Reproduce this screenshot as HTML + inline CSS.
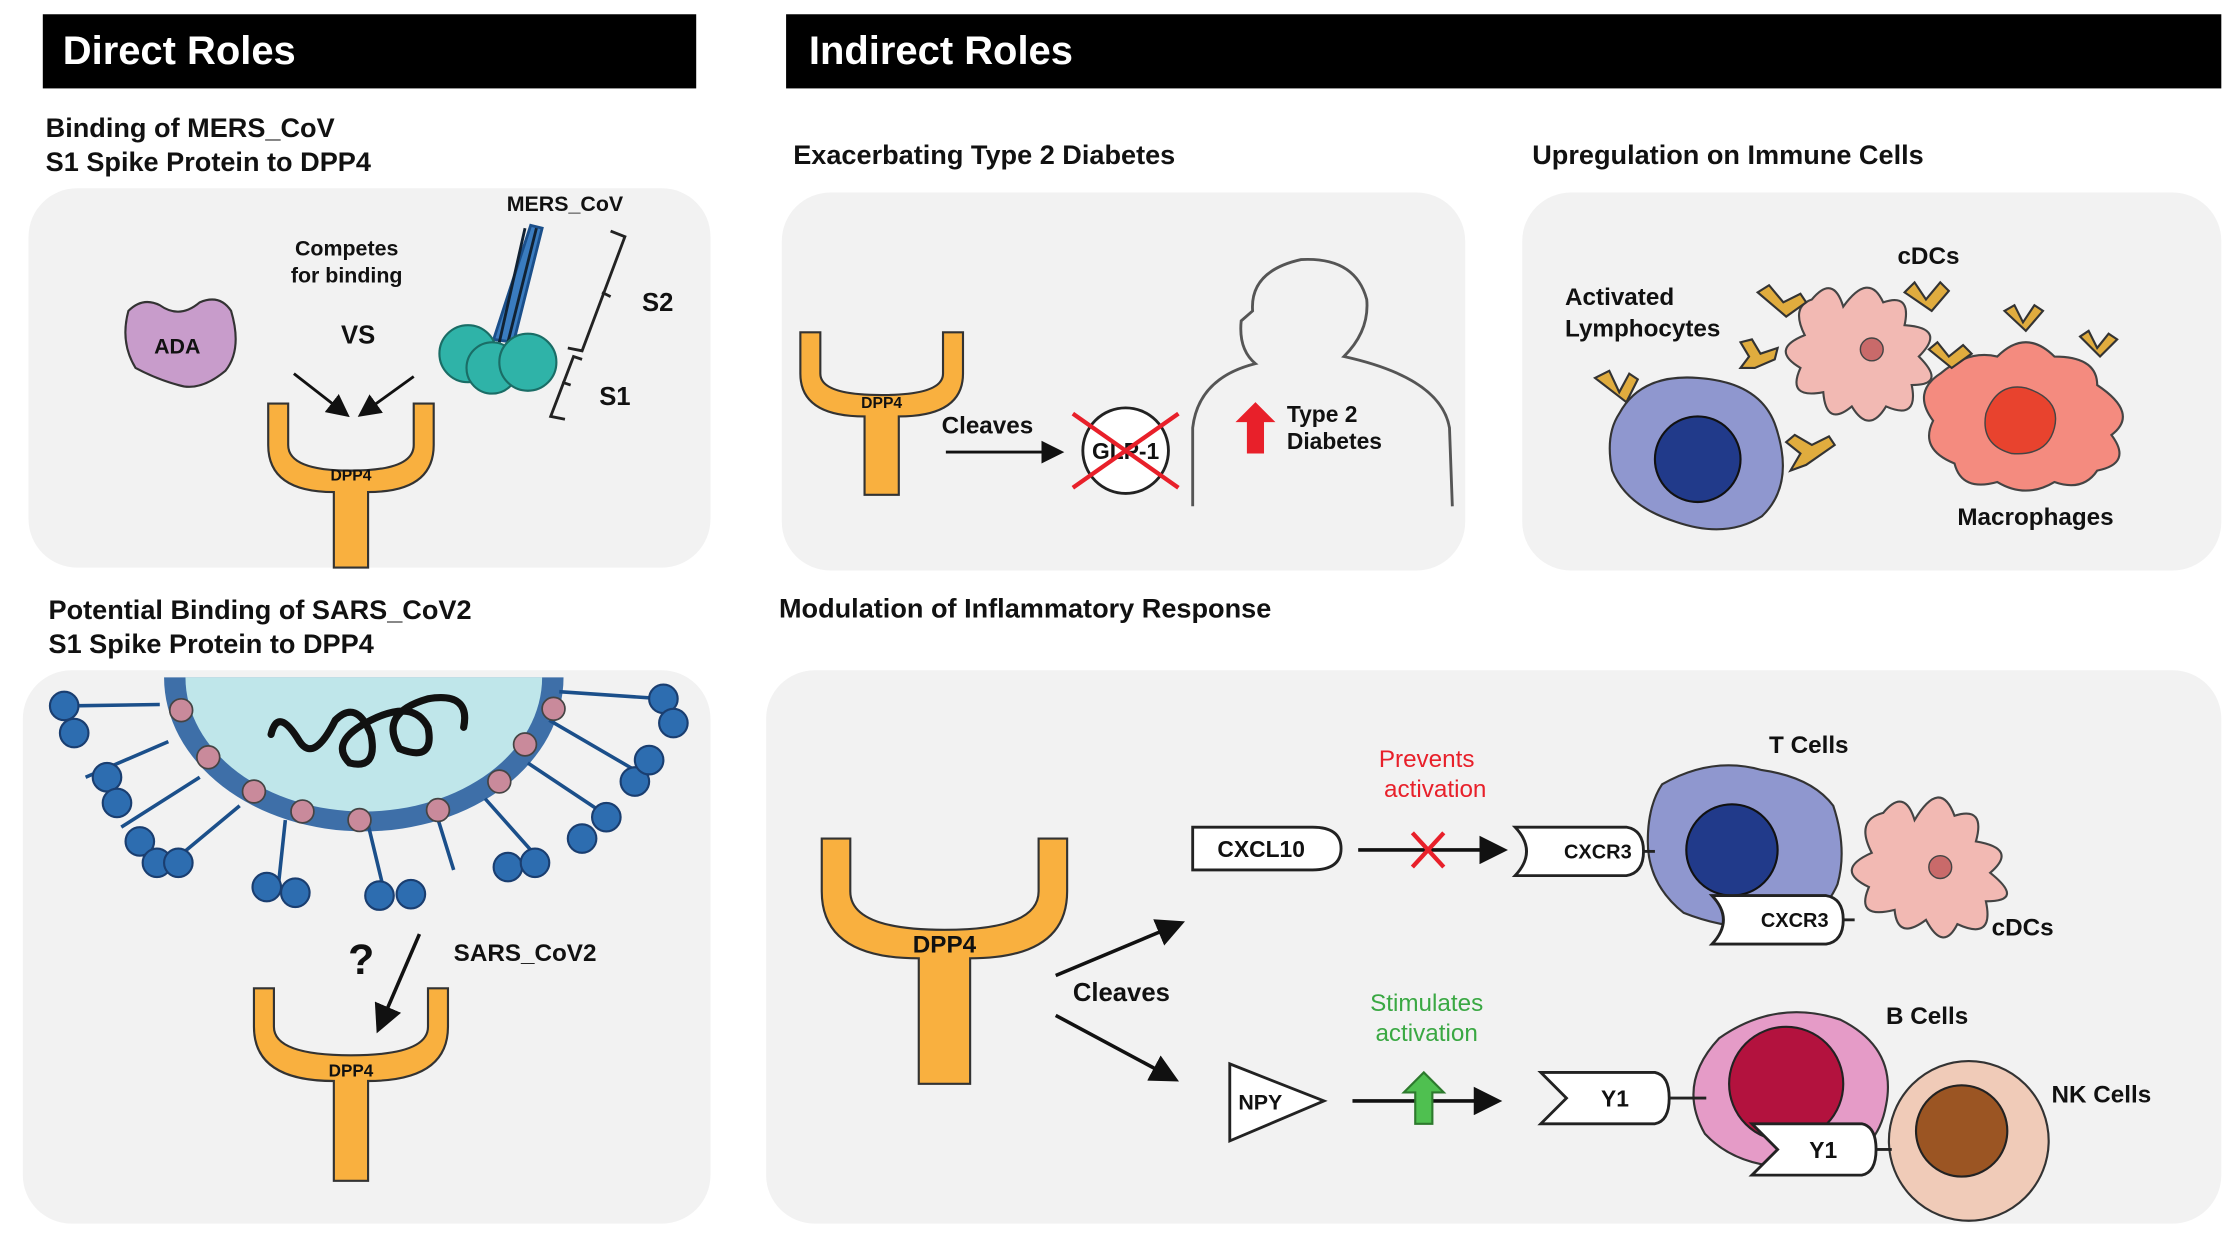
<!DOCTYPE html>
<html><head><meta charset="utf-8"><style>
html,body{margin:0;padding:0;background:#fff;}
svg{display:block;}
text{font-family:"Liberation Sans",sans-serif;font-weight:bold;}
</style></head><body>
<svg width="2237" height="1245" viewBox="0 0 1568 873" preserveAspectRatio="none" xmlns="http://www.w3.org/2000/svg">
<defs>
<marker id="ah" markerWidth="8" markerHeight="8" refX="6" refY="4" orient="auto" markerUnits="strokeWidth"><path d="M0,0 L8,4 L0,8 Z" fill="#111"/></marker>
</defs>
<rect width="1568" height="873" fill="#fff"/>
<rect x="30" y="10" width="458" height="52" fill="#000"/>
<text x="44" y="45" fill="#fff" font-size="28">Direct Roles</text>
<rect x="551" y="10" width="1006" height="52" fill="#000"/>
<text x="567" y="45" fill="#fff" font-size="28">Indirect Roles</text>
<g fill="#f2f2f2">
<rect x="20" y="132" width="478" height="266" rx="34"/>
<rect x="548" y="135" width="479" height="265" rx="34"/>
<rect x="1067" y="135" width="490" height="265" rx="34"/>
<rect x="16" y="470" width="482" height="388" rx="34"/>
<rect x="537" y="470" width="1020" height="388" rx="34"/>
</g>
<g font-size="19" fill="#111">
<text x="32" y="96">Binding of MERS_CoV</text>
<text x="32" y="120">S1 Spike Protein to DPP4</text>
<text x="556" y="115">Exacerbating Type 2 Diabetes</text>
<text x="1074" y="115">Upregulation on Immune Cells</text>
<text x="34" y="434">Potential Binding of SARS_CoV2</text>
<text x="34" y="458">S1 Spike Protein to DPP4</text>
<text x="546" y="433">Modulation of Inflammatory Response</text>
</g>

<path d="M90,218 Q100,208 112,214 Q126,224 140,212 Q154,206 162,218 Q170,245 158,260 Q140,275 125,270 Q110,266 95,258 Q84,240 90,218 Z" fill="#c89ccb" stroke="#333" stroke-width="1.5"/>
<text x="108" y="248" font-size="15" fill="#111">ADA</text>
<text x="243" y="179" font-size="15" text-anchor="middle" fill="#111">Competes</text>
<text x="243" y="198" font-size="15" text-anchor="middle" fill="#111">for binding</text>
<text x="251" y="241" font-size="18" text-anchor="middle" fill="#111">VS</text>
<path d="M206,262 L242,290" stroke="#111" stroke-width="2" marker-end="url(#ah)"/>
<path d="M290,264 L254,290" stroke="#111" stroke-width="2" marker-end="url(#ah)"/>
<path d="M188,283 H202 V312 Q202,330 246,330 Q290,330 290,312 V283 H304 V312 Q304,345 258,345 V398 H234 V345 Q188,345 188,312 Z" fill="#f9b03f" stroke="#333" stroke-width="1.5"/>
<text x="246" y="337" font-size="11" text-anchor="middle" fill="#111">DPP4</text>
<text x="396" y="148" font-size="15" text-anchor="middle" fill="#111">MERS_CoV</text>
<g stroke="#1b4f8a" stroke-width="2" fill="#3a7cc0">
<path d="M372,158 L380,160 L360,240 L346,238 Z"/>
<path d="M376,160 L356,240 M368,160 L350,240" stroke="#123"/>
</g>
<circle cx="328" cy="248" r="20" fill="#2fb3a8" stroke="#1a6d66" stroke-width="1.5"/>
<circle cx="345" cy="258" r="18" fill="#2fb3a8" stroke="#1a6d66" stroke-width="1.5"/>
<circle cx="370" cy="254" r="20" fill="#2fb3a8" stroke="#1a6d66" stroke-width="1.5"/>
<path d="M428,162 L438,166 L408,246 L398,244 M422,205 L428,208 M408,252 L402,250 L386,292 L396,294 M394,268 L400,270" stroke="#222" stroke-width="2" fill="none"/>
<text x="450" y="218" font-size="18" fill="#111">S2</text>
<text x="420" y="284" font-size="18" fill="#111">S1</text>

<path d="M561,233 H575 V262 Q575,277 618,277 Q661,277 661,262 V233 H675 V262 Q675,292 630,292 V347 H606 V292 Q561,292 561,262 Z" fill="#f9b03f" stroke="#333" stroke-width="1.5"/>
<text x="618" y="286" font-size="11" text-anchor="middle" fill="#111">DPP4</text>
<text x="660" y="304" font-size="17" fill="#111">Cleaves</text>
<path d="M663,317 L742,317" stroke="#111" stroke-width="2" marker-end="url(#ah)"/>
<circle cx="789" cy="316" r="30" fill="#fff" stroke="#222" stroke-width="2"/>
<text x="789" y="322" font-size="16" text-anchor="middle" fill="#111">GLP-1</text>
<path d="M752,290 L826,342 M752,342 L826,290" stroke="#e8202a" stroke-width="3"/>
<path d="M836,355 V300 Q840,265 880,255 Q868,245 870,225 L878,218 Q876,190 912,182 Q950,180 958,210 Q960,232 942,250 Q1010,265 1016,300 L1018,355" fill="none" stroke="#555" stroke-width="2"/>
<path d="M880,282 L866,296 H874 V318 H886 V296 H894 Z" fill="#e8202a"/>
<text x="902" y="296" font-size="16" fill="#111">Type 2</text>
<text x="902" y="315" font-size="16" fill="#111">Diabetes</text>

<path d="M1135,290 Q1150,262 1190,265 Q1235,268 1245,300 Q1258,340 1235,362 Q1210,378 1175,366 Q1140,355 1130,330 Q1125,305 1135,290 Z" fill="#8f97cf" stroke="#333" stroke-width="1.5"/>
<circle cx="1190" cy="322" r="30" fill="#213a8a" stroke="#111" stroke-width="1.5"/>
<path d="M1270,210 Q1285,192 1292,215 Q1310,190 1320,212 Q1340,205 1335,228 Q1365,230 1345,250 Q1365,270 1340,270 Q1345,295 1322,285 Q1310,305 1298,285 Q1280,300 1278,275 Q1252,280 1262,258 Q1240,245 1265,235 Q1255,215 1270,210 Z" fill="#f2b9b3" stroke="#444" stroke-width="1.5"/>
<circle cx="1312" cy="245" r="8" fill="#c96a6a" stroke="#444"/>
<path d="M1360,262 Q1380,245 1400,250 Q1420,230 1440,250 Q1470,250 1470,270 Q1500,290 1480,305 Q1495,325 1470,330 Q1460,345 1440,338 Q1420,350 1400,338 Q1375,345 1370,325 Q1345,315 1355,295 Q1340,275 1360,262 Z" fill="#f48b7f" stroke="#444" stroke-width="1.5"/>
<path d="M1392,290 Q1400,268 1420,272 Q1445,280 1440,300 Q1435,320 1410,318 Q1388,312 1392,290 Z" fill="#e8432e" stroke="#444"/>
<g stroke="#333" stroke-width="1.5" fill="#e0ac3e">
<path d="M1118,265 L1128,260 L1135,275 L1142,262 L1148,266 L1140,282 Z"/>
<path d="M1220,258 L1226,250 L1220,240 L1228,238 L1234,248 L1246,244 L1244,252 L1230,258 Z"/>
<path d="M1255,330 L1262,318 L1252,310 L1258,305 L1270,312 L1282,306 L1286,312 L1266,326 Z"/>
<path d="M1232,205 L1240,200 L1250,212 L1262,206 L1266,212 L1252,222 Z"/>
<path d="M1335,205 L1342,198 L1350,210 L1360,198 L1366,204 L1354,218 Z"/>
<path d="M1352,245 L1358,240 L1366,250 L1376,242 L1382,248 L1368,258 Z"/>
<path d="M1405,218 L1412,214 L1418,226 L1426,214 L1432,218 L1420,232 Z"/>
<path d="M1458,236 L1464,232 L1470,244 L1478,234 L1484,238 L1472,250 Z"/>
</g>
<text x="1097" y="214" font-size="17" fill="#111">Activated</text>
<text x="1097" y="236" font-size="17" fill="#111">Lymphocytes</text>
<text x="1330" y="185" font-size="17" fill="#111">cDCs</text>
<text x="1372" y="368" font-size="17" fill="#111">Macrophages</text>

<path d="M115,475 A140,108 0 0 0 395,475 Z" fill="#3e6fa8"/>
<path d="M130,475 A125,94 0 0 0 380,475 Z" fill="#bfe6ea"/>
<g stroke="#1b4f8a" stroke-width="2.5">
<path d="M112,494 L45,495 M118,520 L60,545 M140,545 L85,580 M168,565 L120,605 M200,575 L195,622 M258,578 L270,628 M305,568 L318,610 M340,560 L380,605 M370,535 L430,575 M385,505 L445,540 M392,485 L465,490"/>
</g>
<g fill="#2d6db0" stroke="#1a3e70" stroke-width="1.5">
<circle cx="45" cy="495" r="10"/><circle cx="52" cy="514" r="10"/>
<circle cx="75" cy="545" r="10"/><circle cx="82" cy="563" r="10"/>
<circle cx="98" cy="590" r="10"/><circle cx="110" cy="605" r="10"/>
<circle cx="125" cy="605" r="10"/>
<circle cx="187" cy="622" r="10"/><circle cx="207" cy="626" r="10"/>
<circle cx="266" cy="628" r="10"/><circle cx="288" cy="627" r="10"/>
<circle cx="356" cy="608" r="10"/><circle cx="375" cy="605" r="10"/>
<circle cx="408" cy="588" r="10"/><circle cx="425" cy="573" r="10"/>
<circle cx="445" cy="548" r="10"/><circle cx="455" cy="533" r="10"/>
<circle cx="465" cy="490" r="10"/><circle cx="472" cy="507" r="10"/>
</g>
<g fill="#c98a9b" stroke="#444" stroke-width="1.2">
<circle cx="127" cy="498" r="8"/><circle cx="146" cy="531" r="8"/><circle cx="178" cy="555" r="8"/>
<circle cx="212" cy="569" r="8"/><circle cx="252" cy="575" r="8"/><circle cx="307" cy="568" r="8"/>
<circle cx="350" cy="548" r="8"/><circle cx="368" cy="522" r="8"/><circle cx="388" cy="497" r="8"/>
</g>
<path d="M190,515 Q195,495 210,520 Q220,535 235,505 Q250,490 260,515 Q265,540 245,535 Q230,520 260,505 Q290,490 300,510 Q305,535 280,525 Q265,500 300,490 Q330,485 325,510" fill="none" stroke="#111" stroke-width="5" stroke-linecap="round"/>
<text x="244" y="683" font-size="30" fill="#111">?</text>
<path d="M294,655 L266,720" stroke="#111" stroke-width="2.5" marker-end="url(#ah)"/>
<text x="318" y="674" font-size="17" fill="#111">SARS_CoV2</text>
<path d="M178,693 H192 V720 Q192,740 246,740 Q300,740 300,720 V693 H314 V720 Q314,758 258,758 V828 H234 V758 Q178,758 178,720 Z" fill="#f9b03f" stroke="#333" stroke-width="1.5"/>
<text x="246" y="755" font-size="12" text-anchor="middle" fill="#111">DPP4</text>

<path d="M576,588 H596 V625 Q596,652 662,652 Q728,652 728,625 V588 H748 V625 Q748,672 680,672 V760 H644 V672 Q576,672 576,625 Z" fill="#f9b03f" stroke="#333" stroke-width="1.5"/>
<text x="662" y="668" font-size="17" text-anchor="middle" fill="#111">DPP4</text>
<path d="M740,684 L826,648" stroke="#111" stroke-width="2.5" marker-end="url(#ah)"/>
<path d="M740,712 L822,756" stroke="#111" stroke-width="2.5" marker-end="url(#ah)"/>
<text x="752" y="702" font-size="18" fill="#111">Cleaves</text>
<path d="M836,580 H920 Q940,580 940,595 Q940,610 920,610 H836 Z" fill="#fff" stroke="#222" stroke-width="2"/>
<text x="884" y="601" font-size="16" text-anchor="middle" fill="#111">CXCL10</text>
<path d="M952,596 L1052,596" stroke="#111" stroke-width="2.5" marker-end="url(#ah)"/>
<path d="M990,584 L1012,608 M1012,584 L990,608" stroke="#e8202a" stroke-width="3"/>
<text x="1000" y="538" font-size="17" text-anchor="middle" fill="#e8202a" style="font-weight:normal">Prevents</text>
<text x="1006" y="559" font-size="17" text-anchor="middle" fill="#e8202a" style="font-weight:normal">activation</text>
<path d="M1165,550 Q1200,530 1235,540 Q1270,545 1285,565 Q1295,595 1288,620 Q1275,650 1240,650 Q1210,652 1180,640 Q1155,620 1155,590 Q1155,565 1165,550 Z" fill="#8f97cf" stroke="#333" stroke-width="1.5"/>
<circle cx="1214" cy="596" r="32" fill="#213a8a" stroke="#111" stroke-width="1.5"/>
<path d="M1062,580 H1140 Q1152,582 1152,597 Q1152,612 1140,614 H1062 Q1078,597 1062,580 Z" fill="#fff" stroke="#222" stroke-width="2"/>
<text x="1120" y="602" font-size="14" text-anchor="middle" fill="#111">CXCR3</text>
<path d="M1152,597 H1160" stroke="#222" stroke-width="2"/>
<path d="M1200,628 H1280 Q1292,630 1292,645 Q1292,660 1280,662 H1200 Q1216,645 1200,628 Z" fill="#fff" stroke="#222" stroke-width="2"/>
<text x="1258" y="650" font-size="14" text-anchor="middle" fill="#111">CXCR3</text>
<path d="M1292,645 H1300" stroke="#222" stroke-width="2"/>
<path d="M1320,570 Q1335,552 1342,575 Q1360,545 1370,572 Q1392,565 1385,590 Q1415,595 1395,612 Q1420,632 1392,632 Q1398,660 1372,648 Q1362,668 1350,645 Q1330,660 1328,638 Q1300,645 1310,622 Q1285,610 1312,598 Q1300,575 1320,570 Z" fill="#f2b9b3" stroke="#444" stroke-width="1.5"/>
<circle cx="1360" cy="608" r="8" fill="#c96a6a" stroke="#444"/>
<text x="1240" y="528" font-size="17" fill="#111">T Cells</text>
<text x="1396" y="656" font-size="17" fill="#111">cDCs</text>
<path d="M862,746 L928,772 L862,800 Z" fill="#fff" stroke="#222" stroke-width="2"/>
<text x="868" y="778" font-size="15" fill="#111">NPY</text>
<path d="M948,772 L1048,772" stroke="#111" stroke-width="2.5" marker-end="url(#ah)"/>
<path d="M998,752 L984,766 H992 V788 H1004 V766 H1012 Z" fill="#4fc050" stroke="#2d7a2d" stroke-width="1.5"/>
<text x="1000" y="709" font-size="17" text-anchor="middle" fill="#3aa843" style="font-weight:normal">Stimulates</text>
<text x="1000" y="730" font-size="17" text-anchor="middle" fill="#3aa843" style="font-weight:normal">activation</text>
<path d="M1205,728 Q1245,700 1290,715 Q1330,735 1322,775 Q1315,815 1270,818 Q1220,822 1195,795 Q1175,760 1205,728 Z" fill="#e59bc7" stroke="#333" stroke-width="1.5"/>
<circle cx="1252" cy="760" r="40" fill="#b3123e" stroke="#222" stroke-width="1.5"/>
<circle cx="1380" cy="800" r="56" fill="#f0cbb8" stroke="#333" stroke-width="1.5"/>
<circle cx="1375" cy="793" r="32" fill="#9b5523" stroke="#222" stroke-width="1.5"/>
<path d="M1080,752 H1160 Q1170,754 1170,770 Q1170,786 1160,788 H1080 L1098,770 Z" fill="#fff" stroke="#222" stroke-width="2"/>
<text x="1132" y="776" font-size="16" text-anchor="middle" fill="#111">Y1</text>
<path d="M1170,770 H1196" stroke="#222" stroke-width="2"/>
<path d="M1228,788 H1305 Q1315,790 1315,806 Q1315,822 1305,824 H1228 L1246,806 Z" fill="#fff" stroke="#222" stroke-width="2"/>
<text x="1278" y="812" font-size="16" text-anchor="middle" fill="#111">Y1</text>
<path d="M1315,806 H1326" stroke="#222" stroke-width="2"/>
<text x="1322" y="718" font-size="17" fill="#111">B Cells</text>
<text x="1438" y="773" font-size="17" fill="#111">NK Cells</text>
</svg>
</body></html>
